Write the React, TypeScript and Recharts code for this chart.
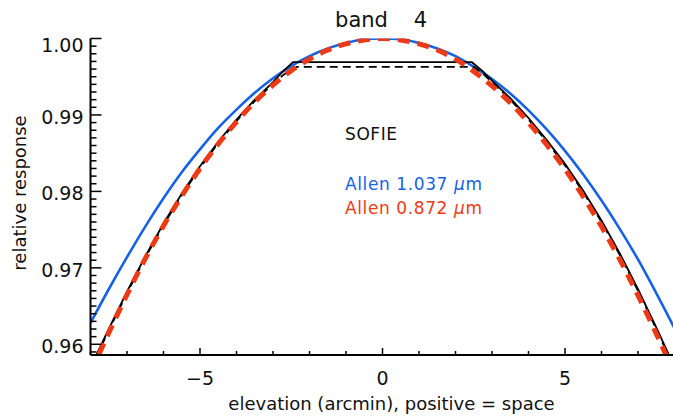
import React from 'react';
import { LineChart, Line, XAxis, YAxis } from 'recharts';

// elevation grid (arcmin) for the two Allen limb curves
const elevation = [
  -8, -7.5, -7, -6.5, -6, -5.5, -5, -4.5, -4, -3.5, -3, -2.5, -2, -1.5, -1, -0.5,
  0, 0.5, 1, 1.5, 2, 2.5, 3, 3.5, 4, 4.5, 5, 5.5, 6, 6.5, 7, 7.5, 8,
];

// Allen 1.037 um (blue, solid)
const allen1037 = [
  0.9628, 0.9672, 0.9714, 0.9754, 0.9791, 0.9825, 0.9855, 0.9883, 0.9907, 0.9929, 0.9948,
  0.9964, 0.9977, 0.9987, 0.9994, 0.9999, 1.0, 0.9999, 0.9994, 0.9987, 0.9977, 0.9963,
  0.9947, 0.9928, 0.9906, 0.9881, 0.9853, 0.9822, 0.9788, 0.9751, 0.9711, 0.9667, 0.9621,
];

// Allen 0.872 um (red, dashed)
const allen0872 = [
  0.9563, 0.9615, 0.9665, 0.9712, 0.9755, 0.9794, 0.983, 0.9862, 0.9891, 0.9917, 0.9939,
  0.9958, 0.9973, 0.9985, 0.9993, 0.9998, 1.0, 0.9998, 0.9993, 0.9985, 0.9973, 0.9957,
  0.9938, 0.9916, 0.989, 0.9861, 0.9829, 0.9793, 0.9754, 0.9711, 0.9664, 0.9614, 0.9561,
];

// SOFIE measured, solid black (flat top between the shoulders)
const sofieSolidX = [
  -8, -7.5, -7, -6.5, -6, -5.5, -5, -4.5, -4, -3.5, -3, -2.75, -2.45,
  2.45, 2.75, 3, 3.5, 4, 4.5, 5, 5.5, 6, 6.5, 7, 7.5, 8,
];
const sofieSolid = [
  0.957, 0.962, 0.9669, 0.9715, 0.9758, 0.9797, 0.9833, 0.9865, 0.9894, 0.992, 0.9943, 0.9956, 0.9969,
  0.9969, 0.9957, 0.9945, 0.9922, 0.9896, 0.9867, 0.9836, 0.9801, 0.9762, 0.9719, 0.9672, 0.9622, 0.957,
];

// SOFIE measured, dashed black
const sofieDashedX = [
  -8, -7.5, -7, -6.5, -6, -5.5, -5, -4.5, -4, -3.5, -3, -2.7, -2.35,
  2.5, 2.75, 3, 3.5, 4, 4.5, 5, 5.5, 6, 6.5, 7, 7.5, 8,
];
const sofieDashed = [
  0.9568, 0.9618, 0.9667, 0.9713, 0.9756, 0.9795, 0.9831, 0.9863, 0.9892, 0.9918, 0.9941, 0.9953, 0.9963,
  0.9963, 0.9954, 0.9943, 0.992, 0.9894, 0.9865, 0.9834, 0.9799, 0.976, 0.9717, 0.967, 0.962, 0.9568,
];

const xMajorTicks = [-5, 0, 5];
const yMajorTicks = [0.96, 0.97, 0.98, 0.99, 1.0];

const xDomain: [number, number] = [-8, 8];
const yDomain: [number, number] = [0.9586, 1.0];

const FONT = 'DejaVu Sans';
const BLUE = '#1662e6';
const RED = '#ee3a14';

const toPoints = (xs: number[], ys: number[]) => xs.map((x, i) => ({ x, y: ys[i] }));

const blueData = toPoints(elevation, allen1037);
const redData = toPoints(elevation, allen0872);
const solidData = toPoints(sofieSolidX, sofieSolid);
const dashedData = toPoints(sofieDashedX, sofieDashed);

// minor ticks every 1 arcmin, every 0.001 in response
const xTicks: number[] = [];
for (let i = -8; i <= 8; i++) xTicks.push(i);
const yTicks: number[] = [];
for (let i = 959; i <= 1000; i++) yTicks.push(i / 1000);

const isXMajor = (v: number) => xMajorTicks.some((m) => Math.abs(m - v) < 1e-9);
const isYMajor = (v: number) => yMajorTicks.some((m) => Math.abs(m - v) < 1e-9);

const BottomTick = (props: any) => {
  const { x, y, payload } = props;
  const major = isXMajor(payload.value);
  const label = payload.value < 0 ? '\u2212' + Math.abs(payload.value) : String(payload.value);
  return (
    <g>
      <line x1={x} x2={x} y1={y} y2={y - (major ? 7 : 4)} stroke="#000" strokeWidth={1.5} />
      {major && (
        <text x={x} y={y + 30} textAnchor="middle" fontFamily={FONT} fontSize={19} fill="#111">
          {label}
        </text>
      )}
    </g>
  );
};

const TopTick = (props: any) => {
  const { x, y, payload } = props;
  const major = isXMajor(payload.value);
  return <line x1={x} x2={x} y1={y} y2={y + (major ? 7 : 4)} stroke="#000" strokeWidth={1.5} />;
};

const LeftTick = (props: any) => {
  const { x, y, payload } = props;
  const major = isYMajor(payload.value);
  const top = Math.abs(payload.value - 1) < 1e-9;
  return (
    <g>
      <line x1={x} x2={x + (major ? 11 : 6)} y1={y} y2={y} stroke="#000" strokeWidth={1.5} />
      {major && (
        <text x={x - 7} y={y + (top ? 13 : 9)} textAnchor="end" fontFamily={FONT} fontSize={19} fill="#111">
          {payload.value.toFixed(2)}
        </text>
      )}
    </g>
  );
};

const RightTick = (props: any) => {
  const { x, y, payload } = props;
  const major = isYMajor(payload.value);
  return <line x1={x} x2={x - (major ? 11 : 6)} y1={y} y2={y} stroke="#000" strokeWidth={1.5} />;
};

export default function App() {
  return (
    <div style={{ position: 'absolute', left: 0, top: 0, width: 673, height: 419, overflow: 'hidden', background: '#fff' }}>
      <LineChart width={676} height={419} margin={{ top: 38.5, right: 1.5, bottom: 0, left: 0 }}>
        <XAxis
          xAxisId="bottom"
          type="number"
          dataKey="x"
          domain={xDomain}
          allowDataOverflow
          ticks={xTicks}
          interval={0}
          height={64}
          tickSize={0}
          tickMargin={0}
          tickLine={false}
          axisLine={{ stroke: '#000', strokeWidth: 2 }}
          tick={<BottomTick />}
        />
        <XAxis
          xAxisId="top"
          orientation="top"
          type="number"
          dataKey="x"
          domain={xDomain}
          allowDataOverflow
          ticks={xTicks}
          interval={0}
          height={0}
          tickSize={0}
          tickMargin={0}
          tickLine={false}
          axisLine={{ stroke: '#000', strokeWidth: 2 }}
          tick={<TopTick />}
        />
        <YAxis
          yAxisId="left"
          type="number"
          domain={yDomain}
          allowDataOverflow
          ticks={yTicks}
          interval={0}
          width={90.5}
          tickSize={0}
          tickMargin={0}
          tickLine={false}
          axisLine={{ stroke: '#000', strokeWidth: 2 }}
          tick={<LeftTick />}
        />
        <YAxis
          yAxisId="right"
          orientation="right"
          type="number"
          domain={yDomain}
          allowDataOverflow
          ticks={yTicks}
          interval={0}
          width={0}
          tickSize={0}
          tickMargin={0}
          tickLine={false}
          axisLine={{ stroke: '#000', strokeWidth: 2 }}
          tick={<RightTick />}
        />
        <Line xAxisId="bottom" yAxisId="left" data={blueData} dataKey="y" type="monotone" stroke={BLUE} strokeWidth={2.6} dot={false} isAnimationActive={false} />
        <Line xAxisId="bottom" yAxisId="left" data={solidData} dataKey="y" type="linear" stroke="#000" strokeWidth={1.8} dot={false} isAnimationActive={false} />
        <Line xAxisId="bottom" yAxisId="left" data={dashedData} dataKey="y" type="linear" stroke="#000" strokeWidth={1.8} strokeDasharray="8 5" dot={false} isAnimationActive={false} />
        <Line xAxisId="bottom" yAxisId="left" data={redData} dataKey="y" type="monotone" stroke={RED} strokeWidth={5} strokeDasharray="12 8" dot={false} isAnimationActive={false} />
      </LineChart>
      <svg width={673} height={419} style={{ position: 'absolute', left: 0, top: 0, pointerEvents: 'none' }}>
        <text x={361.5} y={27} textAnchor="middle" fontFamily={FONT} fontSize={21} fill="#111">band</text>
        <text x={420.5} y={27} textAnchor="middle" fontFamily={FONT} fontSize={21} fill="#111">4</text>
        <text x={391.5} y={410} textAnchor="middle" fontFamily={FONT} fontSize={18} fill="#111">
          elevation (arcmin), positive = space
        </text>
        <text x={26} y={193} textAnchor="middle" fontFamily={FONT} fontSize={18} fill="#111" transform="rotate(-90 26 193)">
          relative response
        </text>
        <text x={345} y={140} fontFamily={FONT} fontSize={17} letterSpacing={0.6} fill="#111">SOFIE</text>
        <text x={345} y={190} fontFamily={FONT} fontSize={17} letterSpacing={0.6} fill={BLUE}>
          Allen 1.037 <tspan fontStyle="italic">{'\u03bc'}</tspan>m
        </text>
        <text x={345} y={214} fontFamily={FONT} fontSize={17} letterSpacing={0.6} fill={RED}>
          Allen 0.872 <tspan fontStyle="italic">{'\u03bc'}</tspan>m
        </text>
      </svg>
    </div>
  );
}
